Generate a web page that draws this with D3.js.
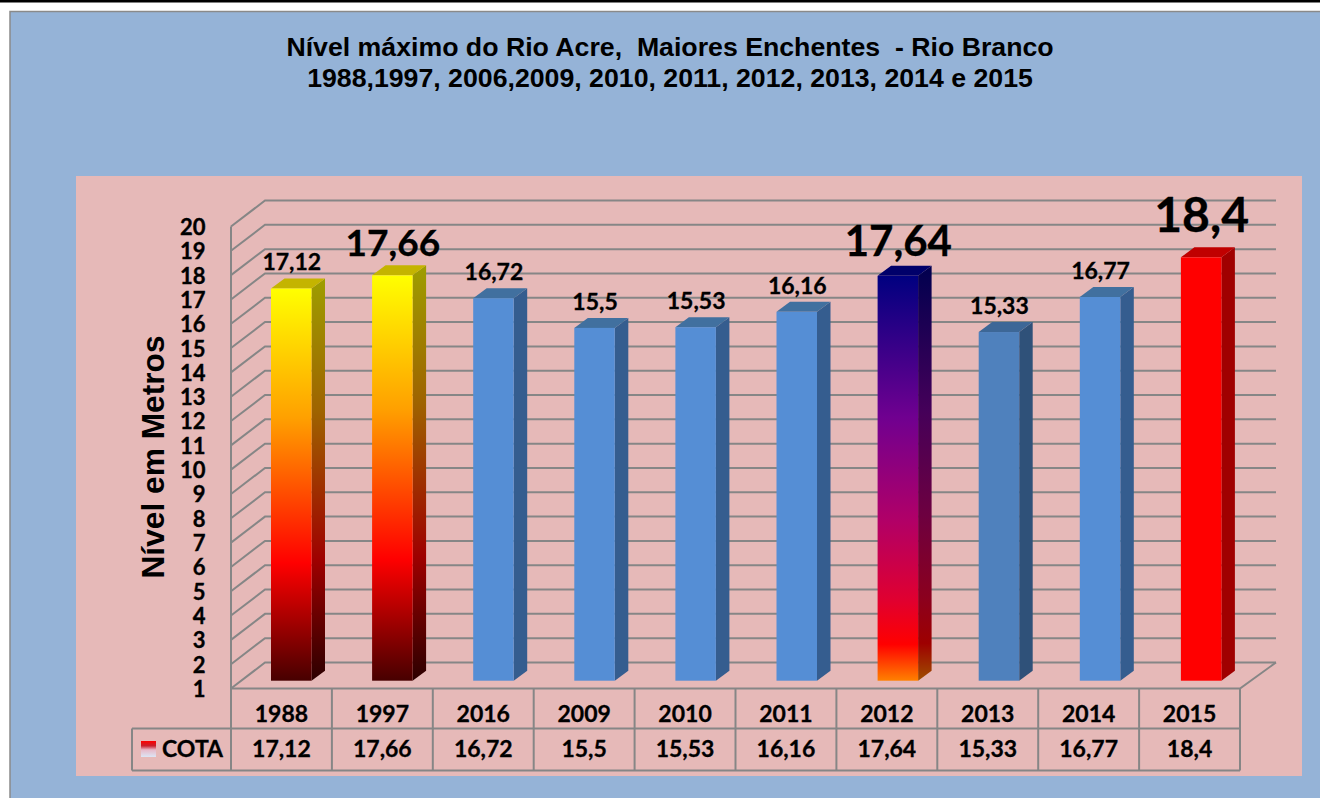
<!DOCTYPE html>
<html><head><meta charset="utf-8">
<script src="https://cdn.jsdelivr.net/npm/d3@7"></script>
<style>html,body{margin:0;padding:0;background:#fff;overflow:hidden}svg{display:block}</style>
</head><body><div id="chart"></div>
<script>
const categories = ["1988","1997","2016","2009","2010","2011","2012","2013","2014","2015"];
const cota = [17.12,17.66,16.72,15.5,15.53,16.16,17.64,15.33,16.77,18.4];
const cotaLabels = ["17,12","17,66","16,72","15,5","15,53","16,16","17,64","15,33","16,77","18,4"];
const yTicks = d3.range(1,21);
const barStyles = ["fire","fire","blue","blue","blue","blue","night","steel","blue","red"];
const labelSizes = [23,37,23,23,23,23,42,23,23,48];
const labelGaps = [18,19,18,18,18,18,20,18,18,25];
const titleLines = ["Nível máximo do Rio Acre,  Maiores Enchentes  - Rio Branco","1988,1997, 2006,2009, 2010, 2011, 2012, 2013, 2014 e 2015"];

const fills = {
  fire:{stops:[[0,"#ffff00"],[.33,"#ffa000"],[.70,"#ff0000"],[1,"#470000"]],side:.62,top:"#c4b400"},
  night:{stops:[[0,"#000080"],[.35,"#700090"],[.6,"#b00068"],[.8,"#e00030"],[.91,"#ff0000"],[1,"#ff8000"]],side:.62,top:"#00006a"},
  blue:{color:"#558ed5",side:"#355d8f",top:"#41709f"},
  steel:{color:"#4f81bd",side:"#2f5179",top:"#3d6797"},
  red:{color:"#ff0000",side:"#a00000",top:"#c00000"}
};
const GRID="#868686", INK="#000";
const svg=d3.select("#chart").append("svg").attr("width",1320).attr("height",798);
const defs=svg.append("defs");
function grad(id,stops,k){
  const g=defs.append("linearGradient").attr("id",id).attr("x1",0).attr("x2",0).attr("y1",0).attr("y2",1);
  stops.forEach(s=>{const c=d3.rgb(s[1]);g.append("stop").attr("offset",s[0]).attr("stop-color",d3.rgb(c.r*k,c.g*k,c.b*k).formatRgb());});
}
Object.entries(fills).forEach(([k,f])=>{ if(f.stops){grad(k+"F",f.stops,1);grad(k+"S",f.stops,f.side);} });
grad("legendKey",[[0,"#ff0000"],[.3,"#c8202c"],[.55,"#e8b8c8"],[1,"#dce6f5"]],1);

// frame
svg.append("rect").attr("x",0).attr("y",0).attr("width",1320).attr("height",2.5).attr("fill","#000");
svg.append("rect").attr("x",10).attr("y",11.5).attr("width",1320).attr("height",800).attr("fill","#95b3d7").attr("stroke","#8a8a8a").attr("stroke-width",1.5);
svg.append("rect").attr("x",76).attr("y",176).attr("width",1226).attr("height",600).attr("fill","#e6b9b8");

const title=svg.append("g").attr("font-family","Liberation Sans").attr("font-weight","bold").attr("font-size",26.7).attr("text-anchor","middle").attr("fill",INK);
titleLines.forEach((t,i)=>title.append("text").attr("x",670).attr("y",[56,87][i]).style("white-space","pre").text(t));

// scales
const x=d3.scaleBand().domain(categories).range([231,1240]);
const xBar=d3.scaleBand().domain(categories).range([231,1242]);
const yFront=d3.scaleLinear().domain([1,20]).range([688.5,226.5]);
const yBack=d3.scaleLinear().domain([1,20]).range([662.5,200.5]);
const yBar=d3.scaleLinear().domain([1,20]).range([680.7,218.4]);
const backX0=265, backX1=1276;
const barLeft=40, barW=40.5, dx=13.5, dy=10;

// walls
const grid=svg.append("g").attr("stroke",GRID).attr("stroke-width",2).attr("fill","none");
yTicks.forEach(v=>{
  grid.append("path").attr("d",`M231,${yFront(v)}L${backX0},${yBack(v)}L${backX1},${yBack(v)}`);
});
grid.append("path").attr("d",`M231,${yFront(20)}V${yFront(1)}H1240L${backX1},${yBack(1)}`);

// bars
const bars=svg.append("g").selectAll("g").data(categories).join("g");
bars.each(function(c,i){
  const g=d3.select(this), f=fills[barStyles[i]];
  const l=xBar(c)+barLeft, t=yBar(cota[i]), b=yBar(1);
  g.append("path").attr("d",`M${l+barW},${t}l${dx},${-dy}V${b-dy}l${-dx},${dy}Z`).attr("fill",f.stops?`url(#${barStyles[i]}S)`:f.side);
  g.append("path").attr("d",`M${l},${t}l${dx},${-dy}h${barW}l${-dx},${dy}Z`).attr("fill",f.top);
  g.append("rect").attr("x",l).attr("y",t).attr("width",barW).attr("height",b-t).attr("fill",f.stops?`url(#${barStyles[i]}F)`:f.color);
  g.append("text").attr("x",l+barW/2+0.5).attr("y",t-labelGaps[i]).attr("text-anchor","middle")
    .attr("font-family","Lato").attr("font-weight","bold").attr("font-size",labelSizes[i]).attr("fill",INK)
    .attr("stroke",INK).attr("stroke-width",0.3).text(cotaLabels[i]);
});

// y axis
const axis=svg.append("g").attr("transform","translate(205.5,0)").call(d3.axisLeft(yFront).tickValues(yTicks).tickSize(0).tickPadding(0).tickFormat(d3.format("d")));
axis.select(".domain").remove();
axis.selectAll("text").attr("font-family","Lato").attr("font-weight","bold").attr("font-size",22).attr("fill",INK)
  .attr("stroke",INK).attr("stroke-width",0.35).attr("dy","0.36em");
svg.append("text").attr("transform","translate(164,457) rotate(-90)").attr("text-anchor","middle")
  .attr("font-family","Liberation Sans").attr("font-weight","bold").attr("font-size",31.7).attr("fill",INK).text("Nível em Metros");

// data table
const tbl=svg.append("g").attr("stroke",GRID).attr("stroke-width",2).attr("fill","none");
tbl.append("path").attr("d",`M132,728.5H1240M132,770.5H1240M132,728.5V770.5`);
[...categories.map(c=>x(c)),1240].forEach(v=>tbl.append("path").attr("d",`M${v},688.5V770.5`));
const cell=svg.append("g").attr("font-family","Lato").attr("font-weight","bold").attr("font-size",23).attr("fill",INK)
  .attr("stroke",INK).attr("stroke-width",0.3).attr("text-anchor","middle");
categories.forEach((c,i)=>{
  const cx=x(c)+x.bandwidth()/2;
  cell.append("text").attr("x",cx).attr("y",722).text(c);
  cell.append("text").attr("x",cx).attr("y",757).text(cotaLabels[i]);
});
svg.append("rect").attr("x",141).attr("y",741).attr("width",15).attr("height",16).attr("fill","url(#legendKey)");
svg.append("text").attr("x",162).attr("y",757).attr("font-family","Lato").attr("font-weight","bold").attr("font-size",23).attr("fill",INK)
  .attr("stroke",INK).attr("stroke-width",0.3).text("COTA");
</script></body></html>
